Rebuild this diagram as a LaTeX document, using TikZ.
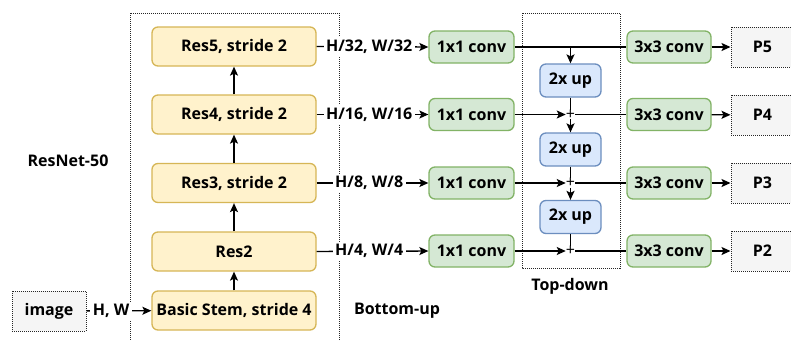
\documentclass[tikz,border=0pt]{standalone}
\usepackage{fontspec}
\setmainfont{Open Sans}
\usetikzlibrary{arrows.meta}
\definecolor{resfill}{HTML}{FFF2CC}
\definecolor{resdraw}{HTML}{D6B656}
\definecolor{gfill}{HTML}{D5E8D4}
\definecolor{gdraw}{HTML}{82B366}
\definecolor{bfill}{HTML}{DAE8FC}
\definecolor{bdraw}{HTML}{6C8EBF}
\definecolor{pfill}{HTML}{F5F5F5}
\begin{document}
\begin{tikzpicture}[x=1pt,y=-1pt,
  font=\fontsize{16}{19}\selectfont\bfseries,
  box/.style={rounded corners=6pt, line width=1.3pt, inner sep=0pt, align=center},
  resbox/.style={box, fill=resfill, draw=resdraw, minimum width=164pt, minimum height=39pt},
  convbox/.style={box, fill=gfill, draw=gdraw, minimum width=85pt, minimum height=32pt},
  upbox/.style={box, fill=bfill, draw=bdraw, minimum width=61pt, minimum height=33pt},
  outbox/.style={fill=pfill, draw=black!85, line width=1pt, dash pattern=on 1pt off 1pt, minimum width=63pt, minimum height=40pt, inner sep=0pt},
  grp/.style={draw=black!85, line width=1pt, dash pattern=on 1pt off 1pt},
  conn/.style={line width=1.4pt, draw=black},
  arr/.style={conn, -{Stealth[length=9pt,width=8pt,inset=2pt]}},
  lbl/.style={fill=white, inner sep=2.5pt},
  plus/.style={font=\fontsize{16}{16}\selectfont\mdseries, inner sep=0pt}
]
\clip (0,0) rectangle (791,340);
\fill[white] (0,0) rectangle (791,340);

% groups
\draw[grp] (130,13) rectangle (339,360);
\draw[grp] (522,13) rectangle (620,268);

% labels
\node (resnet) at (68,161) {ResNet-50};
\node (bu) at (397,311) {Bottom-up};
\node (td) at (570,286) {Top-down};

% input
\node[outbox, minimum width=74pt] (img) at (49,311) {image};

% backbone
\node[resbox] (stem) at (234,310.5) {Basic Stem, stride 4};
\node[resbox] (r2) at (234,251.5) {Res2};
\node[resbox] (r3) at (234,183) {Res3, stride 2};
\node[resbox] (r4) at (234,114.5) {Res4, stride 2};
\node[resbox] (r5) at (234,46.5) {Res5, stride 2};

% lateral 1x1
\node[convbox] (c5) at (471.5,47) {1x1 conv};
\node[convbox] (c4) at (471.5,114.5) {1x1 conv};
\node[convbox] (c3) at (471.5,183) {1x1 conv};
\node[convbox] (c2) at (471.5,251) {1x1 conv};

% upsampling
\node[upbox] (u1) at (570.5,80.5) {2x up};
\node[upbox] (u2) at (570.5,149.5) {2x up};
\node[upbox] (u3) at (570.5,217) {2x up};

% sums
\node[plus] (p4) at (570.5,114.5) {+};
\node[plus] (p3) at (570.5,183) {+};
\node[plus] (p2) at (570.5,251) {+};
\coordinate (j5) at (570.5,47);

% 3x3
\node[convbox, minimum width=84pt] (t5) at (669,47) {3x3 conv};
\node[convbox, minimum width=84pt] (t4) at (669,114.5) {3x3 conv};
\node[convbox, minimum width=84pt] (t3) at (669,183) {3x3 conv};
\node[convbox, minimum width=84pt] (t2) at (669,251) {3x3 conv};

% outputs
\node[outbox] (o5) at (762.5,47) {P5};
\node[outbox] (o4) at (762.5,115) {P4};
\node[outbox] (o3) at (762.5,183) {P3};
\node[outbox] (o2) at (762.5,251) {P2};

% backbone connectors
\draw[arr] (img) -- node[lbl, pos=0.38] {H, W} (stem);
\draw[arr] (stem) -- (r2);
\draw[arr] (r2) -- (r3);
\draw[arr] (r3) -- (r4);
\draw[arr] (r4) -- (r5);

\draw[arr] (r5.east) -- node[lbl, pos=0.47] {H/32, W/32} (c5.west);
\draw[arr] (r4.east) -- node[lbl, pos=0.47] {H/16, W/16} (c4.west);
\draw[arr] (r3.east) -- node[lbl, pos=0.47] {H/8, W/8} (c3.west);
\draw[arr] (r2.east) -- node[lbl, pos=0.47] {H/4, W/4} (c2.west);

% top-down
\draw[conn] (c5.east) -- (t5.west);
\draw[arr] (j5) -- (u1.north);
\draw[conn] (u1.south) -- (p4.north);
\draw[arr] (p4.south) -- (u2.north);
\draw[conn] (u2.south) -- (p3.north);
\draw[arr] (p3.south) -- (u3.north);
\draw[conn] (u3.south) -- (p2.north);

\draw[arr] (c4.east) -- (p4.west);
\draw[arr] (c3.east) -- (p3.west);
\draw[arr] (c2.east) -- (p2.west);
\draw[conn] (p4.east) -- (t4.west);
\draw[conn] (p3.east) -- (t3.west);
\draw[conn] (p2.east) -- (t2.west);

% outputs
\draw[arr] (t5) -- (o5);
\draw[arr] (t4) -- (o4);
\draw[arr] (t3) -- (o3);
\draw[arr] (t2) -- (o2);
\end{tikzpicture}
\end{document}
